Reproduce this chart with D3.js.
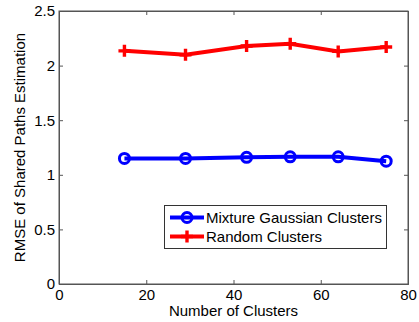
<!DOCTYPE html>
<html><head><meta charset="utf-8">
<script src="https://cdn.jsdelivr.net/npm/d3@7"></script>
<style>body{margin:0;background:#fff}svg{display:block;font-family:"Liberation Sans",Arial,sans-serif}</style>
</head><body>
<script>
const clusters = [15, 29, 43, 53, 64, 75];
const gaussian = [1.15, 1.15, 1.16, 1.165, 1.165, 1.125];
const random = [2.135, 2.10, 2.18, 2.20, 2.13, 2.17];
const xTicks = [0, 20, 40, 60, 80];
const yTicks = [0, 0.5, 1, 1.5, 2, 2.5];
const seriesNames = ["Mixture Gaussian Clusters", "Random Clusters"];

const W = 419, H = 322;
const m = {l: 59, r: 11, t: 11, b: 38};
const FS = "15px";
const svg = d3.select("body").append("svg").attr("width", W).attr("height", H);
const x = d3.scaleLinear().domain([0, 80]).range([m.l, W - m.r]);
const y = d3.scaleLinear().domain([0, 2.5]).range([H - m.b, m.t]);
const axisCol = "#555";

// box
svg.append("rect").attr("x", x(0)).attr("y", y(2.5)).attr("width", x(80) - x(0)).attr("height", y(0) - y(2.5))
  .attr("fill", "#fff").attr("stroke", axisCol).attr("stroke-width", 1);

// axes with inward ticks
const gx = svg.append("g").attr("transform", `translate(0,${y(0)})`)
  .call(d3.axisBottom(x).tickValues(xTicks).tickSize(-4).tickPadding(5).tickFormat(d3.format("d")));
const gxt = svg.append("g").attr("transform", `translate(0,${y(2.5)})`)
  .call(d3.axisTop(x).tickValues(xTicks).tickSize(-4).tickFormat(""));
const gy = svg.append("g").attr("transform", `translate(${x(0)},0)`)
  .call(d3.axisLeft(y).tickValues(yTicks).tickSize(-4).tickPadding(4).tickFormat(d => d));
const gyr = svg.append("g").attr("transform", `translate(${x(80)},0)`)
  .call(d3.axisRight(y).tickValues(yTicks).tickSize(-4).tickFormat(""));
[gx, gxt, gy, gyr].forEach(g => {
  g.select(".domain").attr("stroke", axisCol);
  g.selectAll(".tick line").attr("stroke", axisCol);
  g.selectAll("text").attr("fill", "#000").style("font-size", FS).style("font-family", "'Liberation Sans',Arial,sans-serif");
});

// labels
svg.append("text").attr("x", x(40)).attr("y", 316).attr("text-anchor", "middle")
  .style("font-size", FS).text("Number of Clusters");
svg.append("text").attr("transform", `translate(25,${(y(0) + y(2.5)) / 2}) rotate(-90)`)
  .attr("text-anchor", "middle").style("font-size", FS).text("RMSE of Shared Paths Estimation");

const line = d3.line().x(d => x(d[0])).y(d => y(d[1]));
const blue = "#0000ff", red = "#ff0000";
const gData = clusters.map((c, i) => [c, gaussian[i]]);
const rData = clusters.map((c, i) => [c, random[i]]);

svg.append("path").datum(gData).attr("d", line).attr("fill", "none").attr("stroke", blue).attr("stroke-width", 4);
svg.append("path").datum(rData).attr("d", line).attr("fill", "none").attr("stroke", red).attr("stroke-width", 4);

function circleMark(g, cx, cy) {
  g.append("circle").attr("cx", cx).attr("cy", cy).attr("r", 5).attr("fill", "none").attr("stroke", blue).attr("stroke-width", 3);
}
function plusMark(g, cx, cy) {
  g.append("path").attr("d", `M${cx - 6},${cy}H${cx + 6}M${cx},${cy - 6}V${cy + 6}`).attr("stroke", red).attr("stroke-width", 3.4);
}
gData.forEach(d => circleMark(svg, x(d[0]), y(d[1])));
rData.forEach(d => plusMark(svg, x(d[0]), y(d[1])));

// legend
const lg = svg.append("g");
lg.append("rect").attr("x", 164.5).attr("y", 205.5).attr("width", 222).attr("height", 43)
  .attr("fill", "#fff").attr("stroke", "#333").attr("stroke-width", 1);
const rows = [{y: 217.5, c: blue, n: seriesNames[0], m: circleMark}, {y: 236.5, c: red, n: seriesNames[1], m: plusMark}];
rows.forEach(r => {
  lg.append("line").attr("x1", 170).attr("x2", 204).attr("y1", r.y).attr("y2", r.y).attr("stroke", r.c).attr("stroke-width", 4);
  r.m(lg, 187, r.y);
  lg.append("text").attr("x", 206).attr("y", r.y + 5.5).style("font-size", FS).text(r.n);
});
</script>
</body></html>
